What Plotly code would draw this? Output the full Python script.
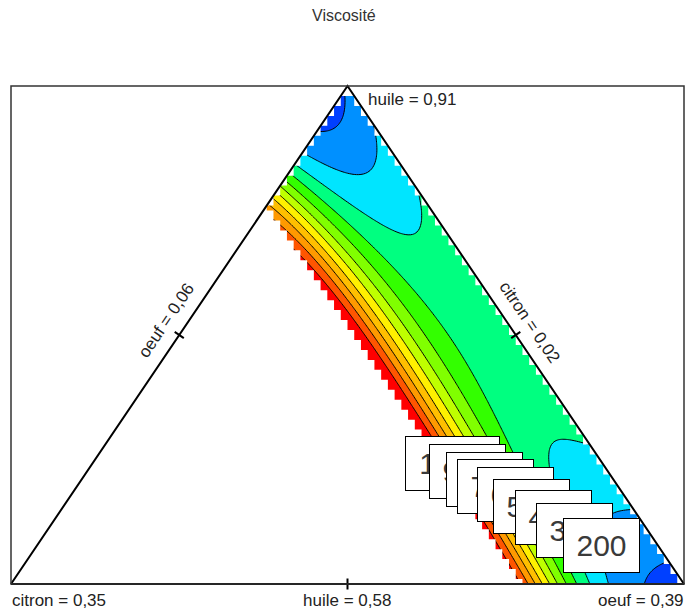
import numpy as np
import plotly.graph_objects as go

# ---------------- data ----------------
title_text = "Viscosité"
contour_levels = [200, 300, 400, 500, 600, 700, 800, 900, 1000, 1100, 1200]
band_colors = ['#0040FF', '#0090FF', '#00E5FF', '#00FF80', '#33FF00', '#80FF00',
               '#BFFF00', '#FFF000', '#FFBF00', '#FF9900', '#FF5500', '#FF0000']
label_texts = ["1000", "900", "800", "700", "600", "500", "400", "300", "200"]

# constrained region: pseudo-citron <= citron_max
citron_max = 0.24

# observed viscosity values (pseudo-component coordinates citron / huile)
obs_citron = [0.241, 0.232, 0.221, 0.211, 0.202, 0.189, 0.174, 0.155, 0.140, 0.110, 0.070, 0.035, 0.0,
              0.0, 0.0, 0.0, 0.0, 0.0, 0.0, 0.0, 0.0, 0.0, 0.0, 0.0, 0.01, 0.008, 0.012,
              0.092, 0.1325, 0.1586, 0.1727, 0.1867, 0.1988, 0.2108, 0.2229, 0.2349, 0.048, 0.24, 0.24, 0.24,
              0.2303, 0.216, 0.201, 0.186, 0.170, 0.153,
              0.2335, 0.2156, 0.1978, 0.180, 0.1622, 0.1443, 0.128, 0.113,
              0.2273, 0.2154, 0.2005, 0.1886, 0.1753, 0.1634, 0.1515, 0.1381,
              0.1228, 0.1445,
              0.1126, 0.0744, 0.0674, 0.0454, 0.0223, 0.030,
              0.1008, 0.0857, 0.0704, 0.0515, 0.032, 0.0149,
              0.0418, 0.0193, 0.0477,
              0.0602, 0.0367, 0.0174, 0.0843, 0.0985, 0.1178,
              0.0744, 0.0392, 0.0164,
              0.0478, 0.019,
              0.0329, 0.024, 0.080, 0.0273, 0.0515, 0.0487, 0.0505, 0.0628, 0.0204, 0.036, 0.10, 0.06]
obs_huile = [0.0, 0.0, 0.0, 0.0, 0.0, 0.0, 0.0, 0.0, 0.0, 0.0, 0.0, 0.0, 0.0,
             0.048, 0.139, 0.27, 0.40, 0.55, 0.70, 0.785, 0.902, 1.0, 0.74, 0.66, 0.75, 0.70, 0.64,
             0.908, 0.8675, 0.8414, 0.8273, 0.8133, 0.8012, 0.7892, 0.7771, 0.7651, 0.952, 0.76, 0.727, 0.657,
             0.7309, 0.7309, 0.7309, 0.7309, 0.7309, 0.7309,
             0.5703, 0.5703, 0.5703, 0.5703, 0.5703, 0.5703, 0.5703, 0.5703,
             0.3092, 0.3092, 0.3092, 0.3092, 0.3092, 0.3092, 0.3092, 0.3092,
             0.4498, 0.1687,
             0.7912, 0.7249, 0.6707, 0.6847, 0.7309, 0.76,
             0.8414, 0.8213, 0.8133, 0.8213, 0.8514, 0.8855,
             0.9357, 0.9719, 0.9418,
             0.2691, 0.2892, 0.2892, 0.2149, 0.1627, 0.0884,
             0.0683, 0.1325, 0.1426,
             0.0321, 0.0482,
             0.5703, 0.4096, 0.45, 0.6707, 0.741, 0.7912, 0.8916, 0.1687, 0.2088, 0.0884, 0.60, 0.35]
obs_visc = [1200, 1100, 1000, 900, 800, 700, 600, 500, 400, 300, 200, 180, 160,
            200, 300, 400, 440, 455, 440, 400, 300, 220, 425, 445, 410, 430, 445,
            200, 300, 400, 500, 600, 700, 800, 900, 1000, 175, 1050, 1100, 1200,
            1000, 900, 800, 700, 600, 500,
            1200, 1100, 1000, 900, 800, 700, 600, 500,
            1200, 1100, 1000, 900, 800, 700, 600, 500,
            500, 500,
            400, 400, 400, 400, 400, 380,
            300, 300, 300, 300, 300, 300,
            200, 200, 170,
            400, 400, 400, 400, 400, 400,
            300, 300, 300,
            200, 200,
            460, 450, 470, 415, 370, 345, 240, 350, 350, 250, 470, 440]
# fitting weight: extra weight on the thin green strip along the upper right edge
obs_weight = [1.0] * len(obs_visc)
for k in (22, 23, 24, 25, 26, 18):
    obs_weight[k] = 4.0

# ---------------- response surface (log-polynomial fit) ----------------
def design(c, h, deg=6):
    t = np.asarray(c) / citron_max
    h = np.asarray(h)
    cols = []
    for i in range(deg + 1):
        for j in range(deg + 1 - i):
            cols.append(t ** i * h ** j)
    return np.stack(cols, -1)

W = np.array(obs_weight)
A = design(obs_citron, obs_huile) * W[:, None]
b = np.log(np.array(obs_visc, float)) * W
lam = 3e-5
coef = np.linalg.solve(A.T @ A + lam * np.eye(A.shape[1]), A.T @ b)

# plot coordinates: oeuf at (1,0), citron at (0,0), huile at (0.5,1)
gx = np.linspace(0, 1, 301)
gy = np.linspace(0, 1, 301)
GX, GY = np.meshgrid(gx, gy)
GH = GY
GC = 1 - GX - GY / 2
Z = np.exp(np.clip(design(GC, GH) @ coef, np.log(60), np.log(4000)))

ncol = len(band_colors)
colorscale = [[k / (ncol - 1), c] for k, c in enumerate(band_colors)]

fig = go.Figure()
fig.add_trace(go.Contour(
    x=gx, y=gy, z=Z,
    contours=dict(start=contour_levels[0], end=contour_levels[-1],
                  size=contour_levels[1] - contour_levels[0], coloring='fill', showlines=True),
    line=dict(color='black', width=1, smoothing=1),
    colorscale=colorscale, showscale=False, hoverinfo='skip'))

# ---------------- staircase mask (grid cells of the experimental region) ----------------
n = 100
rows = []
for j in range(n):
    y0, y1 = j / n, (j + 1) / n
    yc = (j + 0.5) / n
    lo_tri = y1 / 2
    lo_c = 1 - citron_max - yc / 2
    i0_tri = int(np.ceil(lo_tri * n - 1e-9))
    i0_c = int(np.ceil(lo_c * n - 0.5 - 1e-9))
    i0 = max(i0_tri, i0_c)
    hi_tri = 1 - y1 / 2
    i1 = int(np.floor(hi_tri * n + 1e-9)) - 1
    if i0 <= i1:
        rows.append((y0, y1, i0 / n, (i1 + 1) / n))

E = 0.1
lxs, lys = [-E, rows[0][2]], [-E, -E]
rxs, rys = [1 + E, rows[0][3]], [-E, -E]
for (y0, y1, xl, xr) in rows:
    lxs += [xl, xl]; lys += [y0, y1]
    rxs += [xr, xr]; rys += [y0, y1]
ytop = rows[-1][1]
lxs += [rows[-1][2], -E]; lys += [1 + E, 1 + E]
rxs += [rows[-1][3], 1 + E]; rys += [1 + E, 1 + E]
for xs, ys in [(lxs, lys), (rxs, rys),
               ([rows[-1][2] - 0.01, rows[-1][3] + 0.01, rows[-1][3] + 0.01, rows[-1][2] - 0.01],
                [ytop, ytop, 1 + E, 1 + E])]:
    fig.add_trace(go.Scatter(x=xs, y=ys, mode='lines', fill='toself', fillcolor='white',
                             line=dict(width=0, color='white'), hoverinfo='skip', showlegend=False))

# ---------------- pixel helpers (triangle box 11..684 x 86..584) ----------------
PX0, PX1, PY0, PY1 = 11, 684, 584, 86
sx = PX1 - PX0
sy = PY0 - PY1
# plot area 5..686 x 80..592
L_, R_, T_, B_ = 5, 686, 80, 592
def dx(p):
    return p / sx
def dy(p):
    return -p / sy
def X(px):
    return (px - PX0) / sx
def Y(py):
    return (PY0 - py) / sy
def PXp(px):
    return (px - L_) / (R_ - L_)
def PYp(py):
    return (B_ - py) / (B_ - T_)

# triangle + mid ticks
tx = [0, 1, 0.5, 0]
ty = [0, 0, 1, 0]
tick_half = 5.5
for (a, bb) in [((0, 0), (1, 0)), ((0.5, 1), (0, 0)), ((1, 0), (0.5, 1))]:
    mx, my = (a[0] + bb[0]) / 2, (a[1] + bb[1]) / 2
    ex, ey = (bb[0] - a[0]) * sx, -(bb[1] - a[1]) * sy
    L = np.hypot(ex, ey)
    nxp, nyp = -ey / L, ex / L
    tx += [None, mx + dx(nxp * tick_half), mx - dx(nxp * tick_half)]
    ty += [None, my + dy(nyp * tick_half), my - dy(nyp * tick_half)]
fig.add_trace(go.Scatter(x=tx, y=ty, mode='lines', line=dict(color='black', width=2),
                         hoverinfo='skip', showlegend=False, cliponaxis=False))

# ---------------- annotations ----------------
font = dict(family='Liberation Sans, Arial, sans-serif', size=17, color='#222222')
ann = []
def pann(text, px, py, **kw):
    d = dict(text=text, x=PXp(px), y=PYp(py), xref='paper', yref='paper', showarrow=False,
             font=font, yanchor='middle')
    d.update(kw)
    ann.append(d)

pann(title_text, 344, 15, xanchor='center', font=dict(font, size=16, color='#333333'))
pann('huile = 0,91', 366, 99, xanchor='left')
pann('citron = 0,35', 10, 600, xanchor='left')
pann('huile = 0,58', 347, 600, xanchor='center')
pann('oeuf = 0,39', 686, 600, xanchor='right')
pann('oeuf = 0,06', 166, 320, xanchor='center', textangle=-56)
pann('citron = 0,02', 530, 322, xanchor='center', textangle=56)

box_centres = [(452, 463.5), (467.5, 471.5), (484.5, 479), (495, 486.5), (515, 494),
               (531.5, 506), (553, 517.5), (574, 530.5), (601, 545.5)]
for txt, (cx, cy) in zip(label_texts, box_centres):
    pann(txt, cx, cy, xanchor='center',
         font=dict(family='Liberation Sans, Arial, sans-serif', size=30, color='#3a3a3a'),
         bgcolor='white', bordercolor='black', borderwidth=1, borderpad=0,
         width=93 if len(txt) > 3 else 75, height=53, align='center', valign='middle')

fig.update_layout(
    width=686, height=611,
    margin=dict(l=L_, r=686 - R_, t=T_, b=611 - B_, pad=0),
    paper_bgcolor='white', plot_bgcolor='white',
    xaxis=dict(range=[X(L_), X(R_)], visible=False, fixedrange=True),
    yaxis=dict(range=[Y(B_), Y(T_)], visible=False, fixedrange=True),
    showlegend=False,
    annotations=ann,
    shapes=[dict(type='rect', xref='x', yref='y', x0=0, x1=1, y0=0, y1=1,
                 line=dict(color='#333333', width=1.5), layer='above')],
)
fig.write_html("out.html")
